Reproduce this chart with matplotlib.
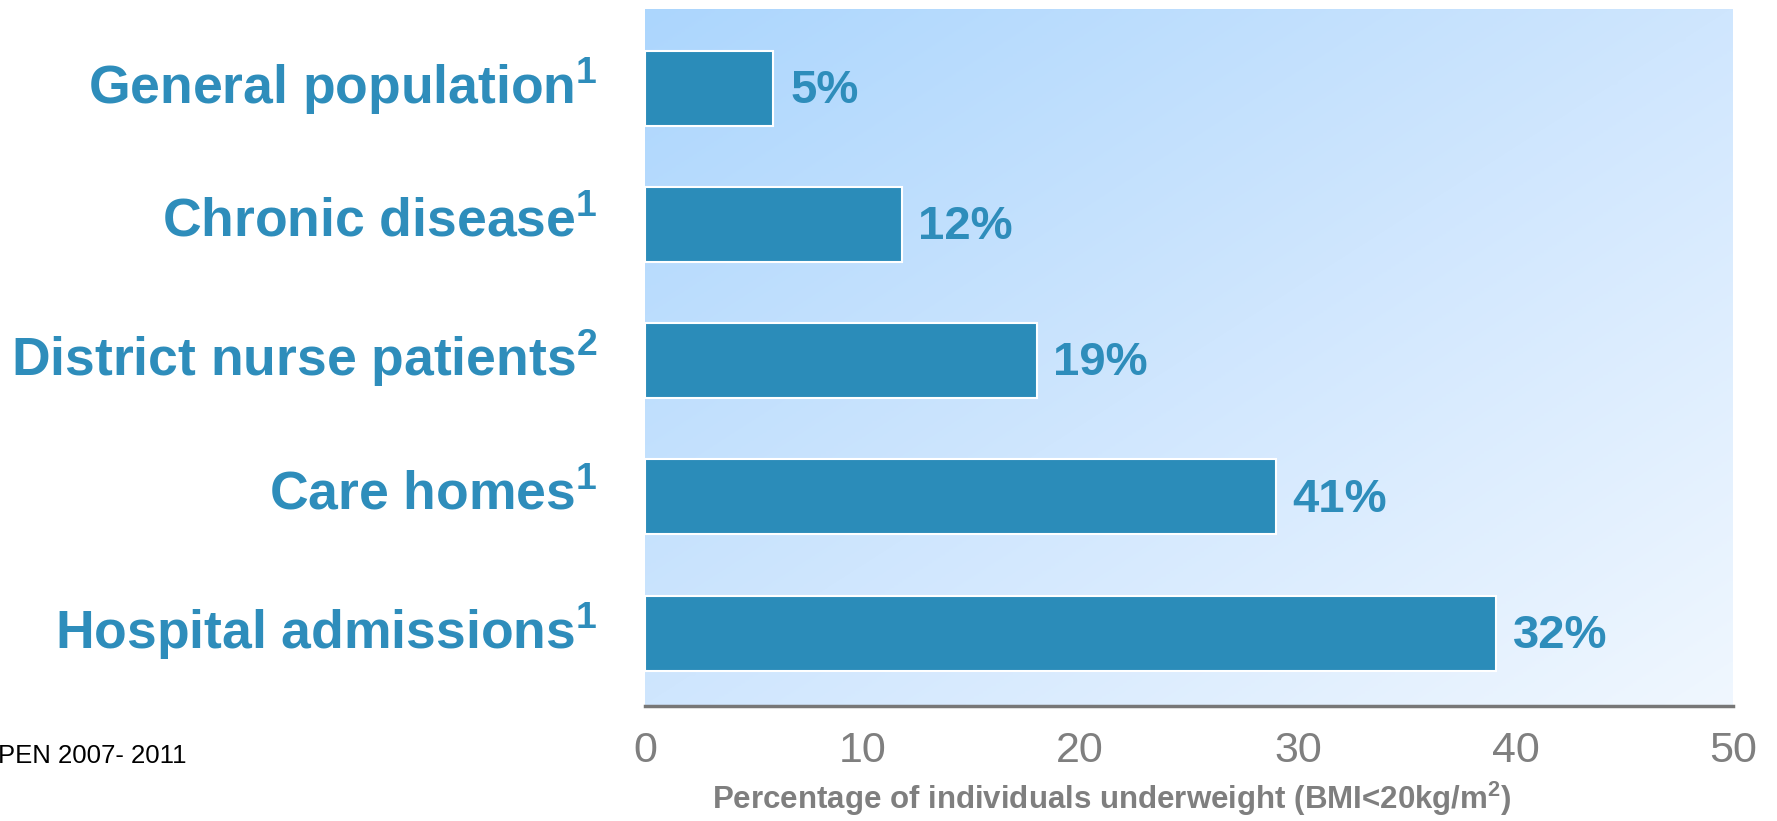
import numpy as np
import matplotlib
matplotlib.use("Agg")
import matplotlib.pyplot as plt
from matplotlib.colors import LinearSegmentedColormap

plt.rcParams['font.family'] = ['Liberation Sans', 'DejaVu Sans']
plt.rcParams['mathtext.fontset'] = 'custom'
plt.rcParams['mathtext.rm'] = 'Liberation Sans'
plt.rcParams['mathtext.bf'] = 'Liberation Sans:bold'

# ---- data ----
categories = ["General population", "Chronic disease", "District nurse patients",
              "Care homes", "Hospital admissions"]
footnote_refs = ["1", "1", "2", "1", "1"]
bar_values = [5.9, 11.8, 18.0, 29.0, 39.1]
value_labels = ["5%", "12%", "19%", "41%", "32%"]
xticks = [0, 10, 20, 30, 40, 50]
xlabel = "Percentage of individuals underweight (BMI<20kg/m$^{\\mathbf{2}}$)"
footnote = "PEN 2007- 2011"

BLUE = "#2b8cb9"
TEXT_BLUE = "#2e8dbb"
GREY = "#7f7f7f"

W, H = 1777, 821
fig = plt.figure(figsize=(W / 100, H / 100), dpi=100)
ax_left, ax_right, ax_top, ax_bottom = 645, 1733, 9, 706
ax = fig.add_axes([ax_left / W, 1 - ax_bottom / H, (ax_right - ax_left) / W, (ax_bottom - ax_top) / H])

# gradient background
n = 256
xx, yy = np.meshgrid(np.linspace(0, 1, n), np.linspace(0, 1, n))
grad = (xx + yy) / 2.0
cmap = LinearSegmentedColormap.from_list("bg", ["#acd6fd", "#cfe6fe", "#f0f7ff"])
ax.imshow(grad, cmap=cmap, extent=[0, 1, 0, 1], transform=ax.transAxes,
          origin="upper", aspect="auto", zorder=0, interpolation="bilinear")

y = np.arange(len(categories))
ax.barh(y, bar_values, height=0.55, color=BLUE, edgecolor="white", linewidth=1.5, zorder=2)

for yi, v, lab in zip(y, bar_values, value_labels):
    ax.annotate(lab, xy=(v, yi), xytext=(12, -2), textcoords="offset points",
                ha="left", va="center", fontsize=34, fontweight="bold", color=TEXT_BLUE, zorder=3)

ax.set_xlim(0, 50)
ax.set_ylim(len(categories) - 1 + 0.535, -0.58)
ax.set_yticks(y)
ax.set_yticklabels([])
for yi, c, r in zip(y, categories, footnote_refs):
    ax.annotate(f"{c}$^{{\\mathbf{{{r}}}}}$", xy=(0, yi), xycoords=("axes fraction", "data"),
                xytext=(-34, 1.5), textcoords="offset points", ha="right", va="center",
                fontsize=38.5, fontweight="bold", color=TEXT_BLUE, annotation_clip=False)
ax.set_xticks(xticks)
ax.set_xticklabels([str(t) for t in xticks], fontsize=31, color=GREY)
ax.tick_params(axis="y", length=0)
ax.tick_params(axis="x", length=0, pad=18)

for s in ["top", "right", "left"]:
    ax.spines[s].set_visible(False)
ax.spines["bottom"].set_color("#777777")
ax.spines["bottom"].set_linewidth(2.5)
ax.spines["bottom"].set_zorder(4)

fig.text(1112 / W, 1 - 799 / H, xlabel, ha="center", va="center",
         fontsize=22.5, fontweight="bold", color=GREY)
fig.text(-2 / W, 1 - 756 / H, footnote, ha="left", va="center", fontsize=18.5, color="black")

fig.savefig("out.png", dpi=100)
